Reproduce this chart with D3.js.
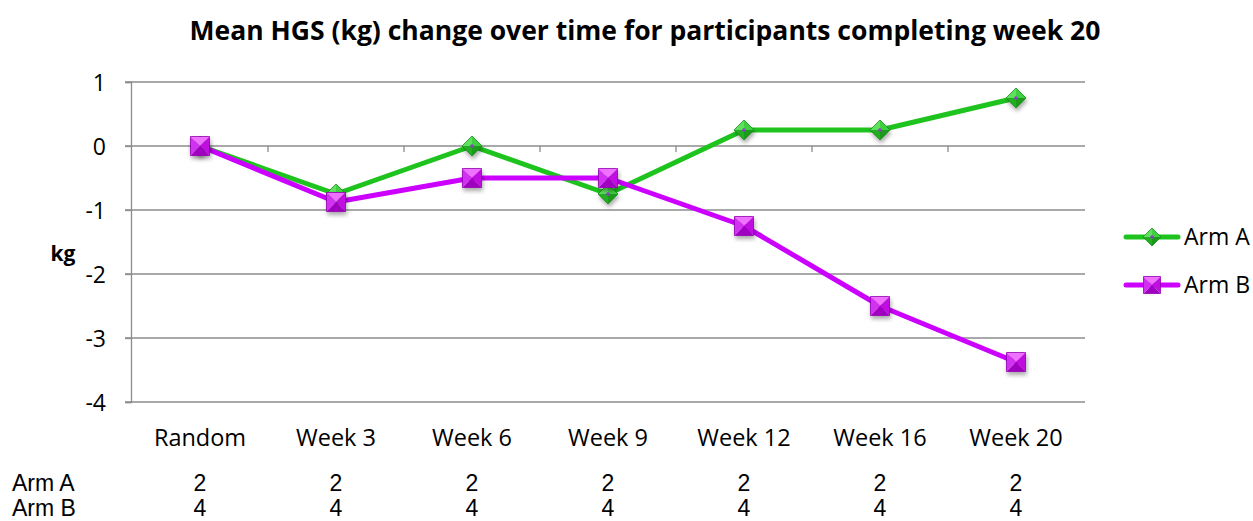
<!DOCTYPE html>
<html>
<head>
<meta charset="utf-8">
<script src="https://cdn.jsdelivr.net/npm/d3@7"></script>
<style>
  body { margin: 0; background: #fff; }
  svg { display: block; }
</style>
</head>
<body>
<svg id="chart" width="1253" height="521"></svg>
<script>
// Data
const categories = ["Random", "Week 3", "Week 6", "Week 9", "Week 12", "Week 16", "Week 20"];
const armA = [0, -0.75, 0, -0.75, 0.25, 0.25, 0.75];
const armB = [0, -0.875, -0.5, -0.5, -1.25, -2.5, -3.375];
const yTicks = [1, 0, -1, -2, -3, -4];
const countsA = [2, 2, 2, 2, 2, 2, 2];
const countsB = [4, 4, 4, 4, 4, 4, 4];
const seriesNames = ["Arm A", "Arm B"];

const svg = d3.select("#chart");
const labelFont = "'Open Sans', 'Noto Sans', sans-serif";
const tableFont = "'Liberation Sans', Arial, sans-serif";

const x = d3.scaleBand().domain(categories).range([132, 1084]);
const y = d3.scaleLinear().domain([-4, 1]).range([402, 82]);
const cx = c => x(c) + x.bandwidth() / 2;

const defs = svg.append("defs");
const sh = defs.append("filter").attr("id", "shadow")
  .attr("x", "-50%").attr("y", "-50%").attr("width", "200%").attr("height", "200%");
sh.append("feGaussianBlur").attr("in", "SourceAlpha").attr("stdDeviation", 2).attr("result", "b");
sh.append("feOffset").attr("in", "b").attr("dx", 1).attr("dy", 3).attr("result", "o");
sh.append("feComponentTransfer").attr("in", "o").attr("result", "s")
  .append("feFuncA").attr("type", "linear").attr("slope", 0.35);
const m = sh.append("feMerge");
m.append("feMergeNode").attr("in", "s");
m.append("feMergeNode").attr("in", "SourceGraphic");

// Title
svg.append("text")
  .attr("x", 645).attr("y", 40)
  .attr("text-anchor", "middle")
  .attr("font-family", labelFont)
  .attr("font-weight", "bold")
  .attr("font-size", 26.5)
  .attr("fill", "#000")
  .text("Mean HGS (kg) change over time for participants completing week 20");

// Horizontal gridlines
svg.append("g").selectAll("line").data(yTicks).join("line")
  .attr("x1", 125).attr("x2", 1085)
  .attr("y1", d => y(d)).attr("y2", d => y(d))
  .attr("stroke", "#8c8c8c").attr("stroke-width", 1.3);

// Y axis
const yAxis = svg.append("g").attr("transform", "translate(131,0)")
  .call(d3.axisLeft(y).tickValues(yTicks).tickSize(6).tickFormat(d3.format("d")));
yAxis.select(".domain").attr("stroke", "#8c8c8c").attr("stroke-width", 1.3);
yAxis.selectAll(".tick line").attr("stroke", "#8c8c8c").attr("stroke-width", 1.3);
yAxis.selectAll(".tick text")
  .attr("x", -25).attr("dy", "0.35em")
  .attr("font-family", labelFont).attr("font-size", 23).attr("fill", "#000")
  .text(d => d < 0 ? "-" + Math.abs(d) : d);

svg.append("text")
  .attr("x", 63).attr("y", 254).attr("dy", "0.35em")
  .attr("text-anchor", "middle")
  .attr("font-family", labelFont).attr("font-weight", "bold").attr("font-size", 21)
  .text("kg");

// Category tick marks on the zero line
const boundaries = categories.slice(1).map(c => x(c));
svg.append("g").selectAll("line").data(boundaries).join("line")
  .attr("x1", d => d).attr("x2", d => d)
  .attr("y1", y(0)).attr("y2", y(0) + 6)
  .attr("stroke", "#8c8c8c").attr("stroke-width", 1.3);

// Category labels
svg.append("g").selectAll("text").data(categories).join("text")
  .attr("x", d => cx(d)).attr("y", 446)
  .attr("text-anchor", "middle")
  .attr("font-family", labelFont).attr("font-size", 23.5).attr("fill", "#000")
  .text(d => d);

// Marker drawing
function diamond(g, px, py, r) {
  const t = [px, py - r], ri = [px + r, py], b = [px, py + r], l = [px - r, py];
  const c = [px, py];
  const tri = (a, b2, col) => g.append("path")
    .attr("d", d3.line()([a, b2, c]) + "Z").attr("fill", col);
  tri(l, t, "#5fe05f");
  tri(t, ri, "#3fcf3f");
  tri(ri, b, "#1a9a1a");
  tri(b, l, "#23ad23");
  g.append("path").attr("d", d3.line()([t, ri, b, l]) + "Z")
    .attr("fill", "none").attr("stroke", "#169016").attr("stroke-width", 0.8);
  g.append("circle").attr("cx", px).attr("cy", py).attr("r", 1.8).attr("fill", "#8a3fc0");
}
function square(g, px, py, h) {
  const tl = [px - h, py - h], tr = [px + h, py - h], br = [px + h, py + h], bl = [px - h, py + h];
  const c = [px, py];
  const tri = (a, b2, col) => g.append("path")
    .attr("d", d3.line()([a, b2, c]) + "Z").attr("fill", col);
  tri(tl, tr, "#f070ff");
  tri(tr, br, "#c010e0");
  tri(br, bl, "#a000c0");
  tri(bl, tl, "#d030f0");
  g.append("path").attr("d", d3.line()([tl, tr, br, bl]) + "Z")
    .attr("fill", "none").attr("stroke", "#9000b0").attr("stroke-width", 0.8);
}

const lineGen = d3.line().x((d, i) => cx(categories[i])).y(d => y(d));

const series = [
  { name: seriesNames[0], values: armA, color: "#1ec31e", marker: "diamond" },
  { name: seriesNames[1], values: armB, color: "#cc00ff", marker: "square" }
];

series.forEach(s => {
  svg.append("path").datum(s.values)
    .attr("d", lineGen)
    .attr("fill", "none").attr("stroke", s.color).attr("stroke-width", 5)
    .attr("stroke-linejoin", "round").attr("stroke-linecap", "round");
});
series.forEach(s => {
  s.values.forEach((v, i) => {
    const g = svg.append("g").attr("filter", "url(#shadow)");
    if (s.marker === "diamond") diamond(g, cx(categories[i]), y(v), 10);
    else square(g, cx(categories[i]), y(v), 9.5);
  });
});

// Legend
const legendY = [237, 285];
series.forEach((s, i) => {
  const ly = legendY[i];
  svg.append("line").attr("x1", 1126).attr("x2", 1178).attr("y1", ly).attr("y2", ly)
    .attr("stroke", s.color).attr("stroke-width", 5).attr("stroke-linecap", "round");
  const g = svg.append("g");
  if (s.marker === "diamond") diamond(g, 1152, ly, 9);
  else square(g, 1152, ly, 8.5);
  svg.append("text").attr("x", 1184).attr("y", ly).attr("dy", "0.35em")
    .attr("font-family", labelFont).attr("font-size", 23).text(s.name);
});

// Data table of counts
const rows = [
  { label: seriesNames[0], counts: countsA, yy: 491 },
  { label: seriesNames[1], counts: countsB, yy: 516 }
];
rows.forEach(r => {
  svg.append("text").attr("x", 12).attr("y", r.yy)
    .attr("font-family", tableFont).attr("font-size", 23).text(r.label);
  svg.append("g").selectAll("text").data(r.counts).join("text")
    .attr("x", (d, i) => cx(categories[i])).attr("y", r.yy)
    .attr("text-anchor", "middle")
    .attr("font-family", tableFont).attr("font-size", 23).text(d => d);
});
</script>
</body>
</html>
